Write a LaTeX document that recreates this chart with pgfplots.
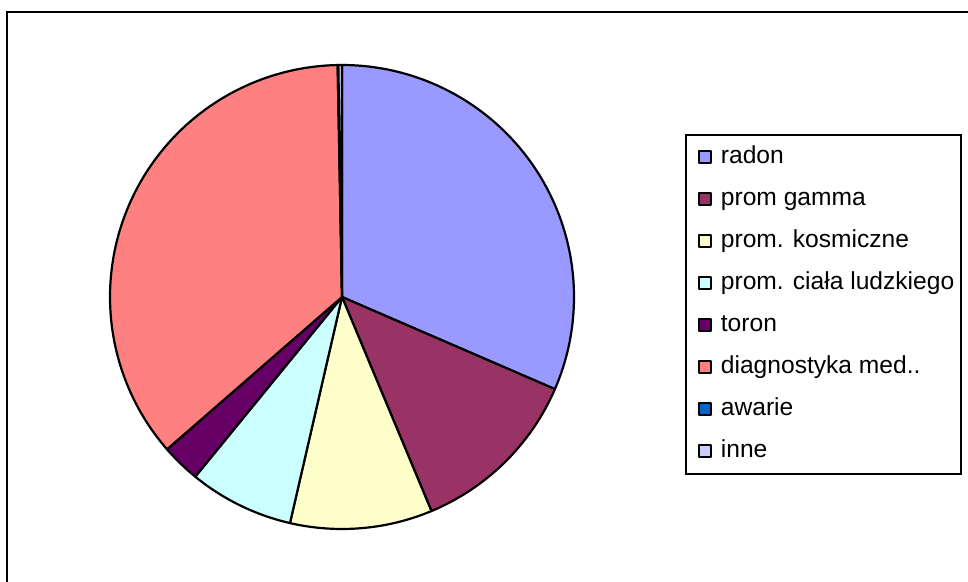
\documentclass[border=0pt]{standalone}
\usepackage{fontspec}
\setmainfont{Liberation Sans}
\usepackage{pgfplots}
\pgfplotsset{compat=1.18}
\definecolor{cRadon}{HTML}{9999FF}
\definecolor{cGamma}{HTML}{993366}
\definecolor{cKosm}{HTML}{FFFFCC}
\definecolor{cCiala}{HTML}{CCFFFF}
\definecolor{cToron}{HTML}{660066}
\definecolor{cDiag}{HTML}{FF8080}
\definecolor{cAwarie}{HTML}{0066CC}
\definecolor{cInne}{HTML}{CCCCFF}
% shares in percent
% radon 31.5, prom gamma 12.2, prom. kosmiczne 9.9, prom. ciala ludzkiego 7.3,
% toron 2.7, diagnostyka med. 36.1, awarie 0.05, inne 0.25
\pgfplotsset{slice/.style={draw=black, line width=2.2bp, line join=round, fill=#1}}
\begin{document}
\begin{tikzpicture}
\begin{axis}[
  scale only axis, width=968bp, height=582bp,
  xmin=0, xmax=968, ymin=0, ymax=582,
  hide axis, clip=false,
  legend cell align=left,
  legend style={at={(axis cs:685,448)}, anchor=north west,
    draw=black, line width=1.8bp, fill=white,
    inner xsep=7bp, inner ysep=10.5bp,
    column sep=9bp, row sep=18bp,
    font=\fontsize{24.6bp}{30bp}\selectfont,
    nodes={inner sep=0pt, text height=18bp, text depth=6bp},
    cells={anchor=west}},
  legend image code/.code={
    \path (0bp,0bp);
    \draw[#1, line width=1.8bp] (5bp,-6bp) rectangle (17bp,6bp);
  },
]
\addplot[slice=cRadon, domain={90-3.6*(31.5)}:{90}, samples=120]
  ({342+232*cos(x)},{285+232*sin(x)}) -- (axis cs:342,285) -- cycle;
\addlegendentry{radon}
\addplot[slice=cGamma, domain={90-3.6*(31.5+12.2)}:{90-3.6*(31.5)}, samples=60]
  ({342+232*cos(x)},{285+232*sin(x)}) -- (axis cs:342,285) -- cycle;
\addlegendentry{prom gamma}
\addplot[slice=cKosm, domain={90-3.6*(31.5+12.2+9.9)}:{90-3.6*(31.5+12.2)}, samples=60]
  ({342+232*cos(x)},{285+232*sin(x)}) -- (axis cs:342,285) -- cycle;
\addlegendentry{prom. kosmiczne}
\addplot[slice=cCiala, domain={90-3.6*(31.5+12.2+9.9+7.3)}:{90-3.6*(31.5+12.2+9.9)}, samples=40]
  ({342+232*cos(x)},{285+232*sin(x)}) -- (axis cs:342,285) -- cycle;
\addlegendentry{prom. ciała ludzkiego}
\addplot[slice=cToron, domain={90-3.6*(31.5+12.2+9.9+7.3+2.7)}:{90-3.6*(31.5+12.2+9.9+7.3)}, samples=20]
  ({342+232*cos(x)},{285+232*sin(x)}) -- (axis cs:342,285) -- cycle;
\addlegendentry{toron}
\addplot[slice=cDiag, domain={90-3.6*(31.5+12.2+9.9+7.3+2.7+36.1)}:{90-3.6*(31.5+12.2+9.9+7.3+2.7)}, samples=140]
  ({342+232*cos(x)},{285+232*sin(x)}) -- (axis cs:342,285) -- cycle;
\addlegendentry{diagnostyka med..}
\addplot[slice=cAwarie, domain={90-3.6*(31.5+12.2+9.9+7.3+2.7+36.1+0.05)}:{90-3.6*(31.5+12.2+9.9+7.3+2.7+36.1)}, samples=3]
  ({342+232*cos(x)},{285+232*sin(x)}) -- (axis cs:342,285) -- cycle;
\addlegendentry{awarie}
\addplot[slice=cInne, domain={90-3.6*(100)}:{90-3.6*(31.5+12.2+9.9+7.3+2.7+36.1+0.05)}, samples=5]
  ({342+232*cos(x)},{285+232*sin(x)}) -- (axis cs:342,285) -- cycle;
\addlegendentry{inne}
% outer chart-area frame (top and left edges visible)
\addplot[forget plot, draw=black, line width=2bp, fill=none] coordinates {(7,0) (7,570) (968,570)};
\end{axis}
\pgfresetboundingbox
\useasboundingbox (0,0) rectangle (968bp,582bp);
\end{tikzpicture}
\end{document}
